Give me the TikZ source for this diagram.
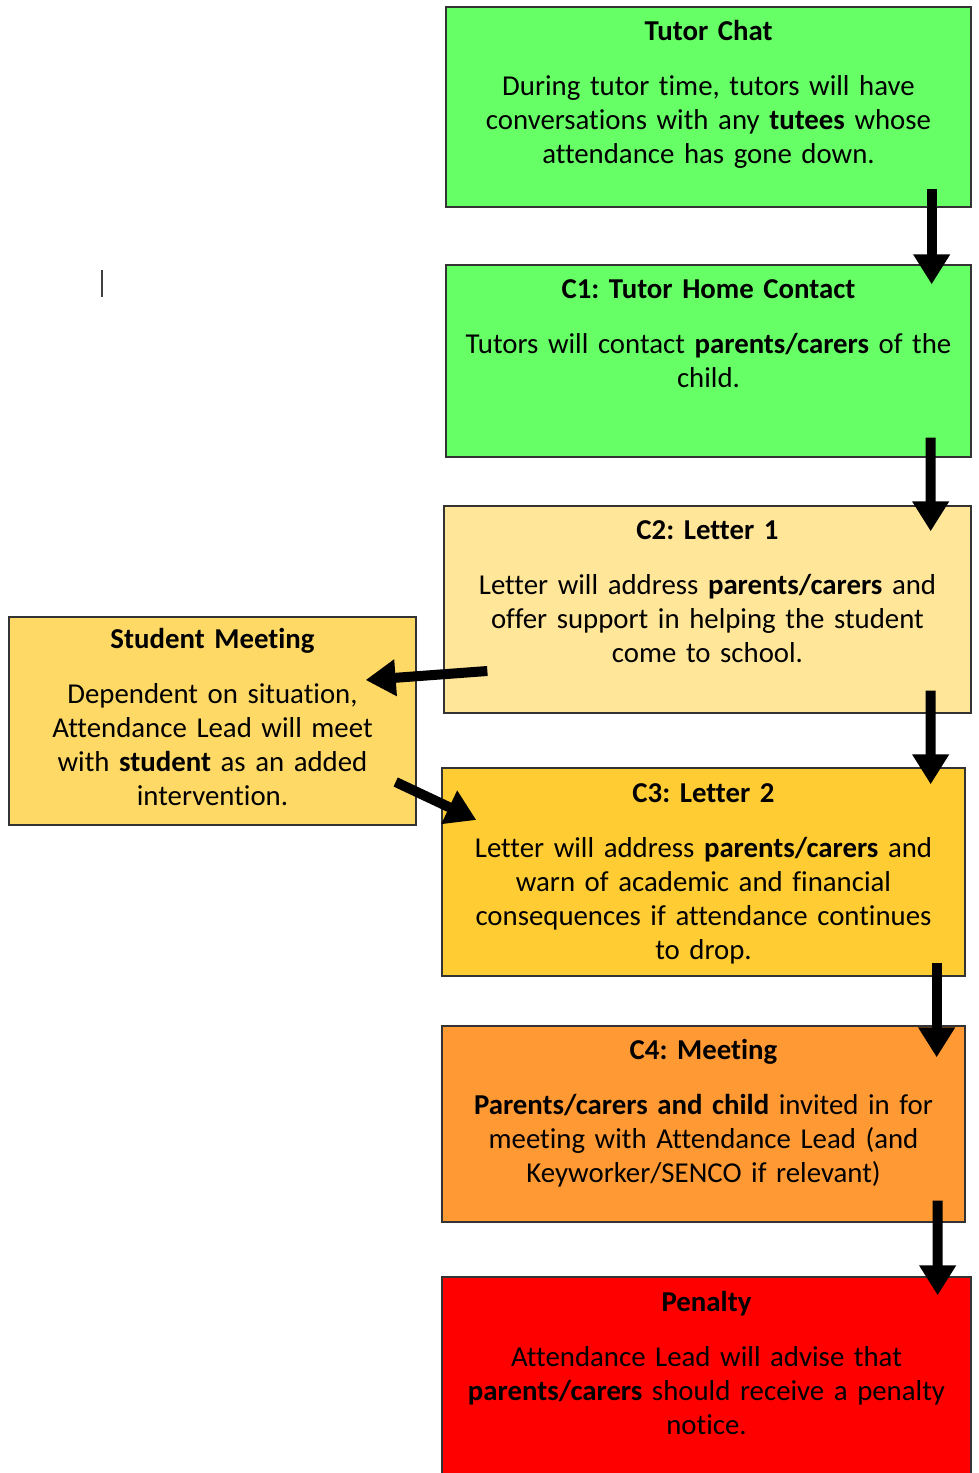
\documentclass[tikz,border=0pt]{standalone}
\usepackage{fontspec}
\setmainfont{Carlito}[Ligatures=NoCommon]
\frenchspacing
\usetikzlibrary{positioning, arrows.meta}
\definecolor{chatgreen}{HTML}{66FF66}
\definecolor{letterone}{HTML}{FFE699}
\definecolor{meetyellow}{HTML}{FFD966}
\definecolor{lettertwo}{HTML}{FFCC33}
\definecolor{meetorange}{HTML}{FF9933}
\definecolor{penaltyred}{HTML}{FF0000}
\tikzset{
  stage/.style={draw=black!80, line width=0.8pt, inner sep=0pt},
  stagetext/.style={align=center, inner sep=0pt, text width=10.4cm,
    font=\fontsize{16.4}{19.35}\selectfont},
  flow/.style={line width=0.2cm, -{Triangle[length=0.6cm, width=0.7cm]}},
}
\begin{document}
\begin{tikzpicture}
[x=0.02cm, y=-0.02cm]
\useasboundingbox (0,0) rectangle (979,1473);
\clip (0,0) rectangle (979,1473);

% stage boxes
\node[stage, fill=chatgreen,  minimum width=10.5cm,  minimum height=4cm]    (tutor) at (708.5,107)    {};
\node[stage, fill=chatgreen,  minimum width=10.5cm,  minimum height=3.84cm] (c1)    at (708.5,361)    {};
\node[stage, fill=letterone,  minimum width=10.54cm, minimum height=4.14cm] (c2)    at (707.5,609.5)  {};
\node[stage, fill=meetyellow, minimum width=8.14cm,  minimum height=4.16cm] (sm)    at (212.5,721)    {};
\node[stage, fill=lettertwo,  minimum width=10.46cm, minimum height=4.16cm] (c3)    at (703.5,872)    {};
\node[stage, fill=meetorange, minimum width=10.46cm, minimum height=3.92cm] (c4)    at (703.5,1124)   {};
\node[stage, fill=penaltyred, minimum width=10.58cm, minimum height=4.46cm] (pen)   at (706.5,1388.5) {};

% texts
\node[stagetext, below=0.28cm of tutor.north] (tutortxt) {\textbf{Tutor Chat}\\[0.42cm]
  During tutor time, tutors will have\\ conversations with any \textbf{tutees} whose\\ attendance has gone down.};
\node[stagetext, below=0.3cm of c1.north] (c1txt) {\textbf{C1: Tutor Home Contact}\\[0.42cm]
  Tutors will contact \textbf{parents/carers} of the\\ child.};
\node[stagetext, below=0.3cm of c2.north] (c2txt) {\textbf{C2: Letter 1}\\[0.42cm]
  Letter will address \textbf{parents/carers} and\\ offer support in helping the student\\ come to school.};
\node[stagetext, text width=8cm, below=0.24cm of sm.north] (smtxt) {\textbf{Student Meeting}\\[0.42cm]
  Dependent on situation,\\ Attendance Lead will meet\\ with \textbf{student} as an added\\ intervention.};
\node[stagetext, below=0.32cm of c3.north] (c3txt) {\textbf{C3: Letter 2}\\[0.42cm]
  Letter will address \textbf{parents/carers} and\\ warn of academic and financial\\ consequences if attendance continues\\ to drop.};
\node[stagetext, below=0.27cm of c4.north] (c4txt) {\textbf{C4: Meeting}\\[0.42cm]
  \textbf{Parents/carers and child} invited in for\\ meeting with Attendance Lead (and\\ Keyworker/SENCO if relevant)};
\node[stagetext, below=0.3cm of pen.north] (pentxt) {\textbf{Penalty}\\[0.42cm]
  Attendance Lead will advise that\\ \textbf{parents/carers} should receive a penalty\\ notice.};

% arrows
\draw[flow] ([shift={(-40,-19)}]tutor.south east) -- ([shift={(-40,20)}]c1.north east);
\draw[flow] ([shift={(-41,-20)}]c1.south east) -- ([shift={(-41,26)}]c2.north east);
\draw[flow] ([shift={(-41,-23)}]c2.south east) -- ([shift={(-35,17)}]c3.north east);
\draw[flow] ([shift={(-29,-14)}]c3.south east) -- ([shift={(-29,32)}]c4.north east);
\draw[flow] ([shift={(-28,-22)}]c4.south east) -- ([shift={(-34,19)}]pen.north east);
\draw[flow] ([shift={(44,61.5)}]c2.west) -- ([shift={(-51,-41)}]sm.east);
\draw[flow] ([shift={(-21,61)}]sm.east) -- ([shift={(35,-52)}]c3.west);

% cursor mark
\draw[line width=0.04cm, black!75] (102,270) -- (102,297);
\end{tikzpicture}
\end{document}
